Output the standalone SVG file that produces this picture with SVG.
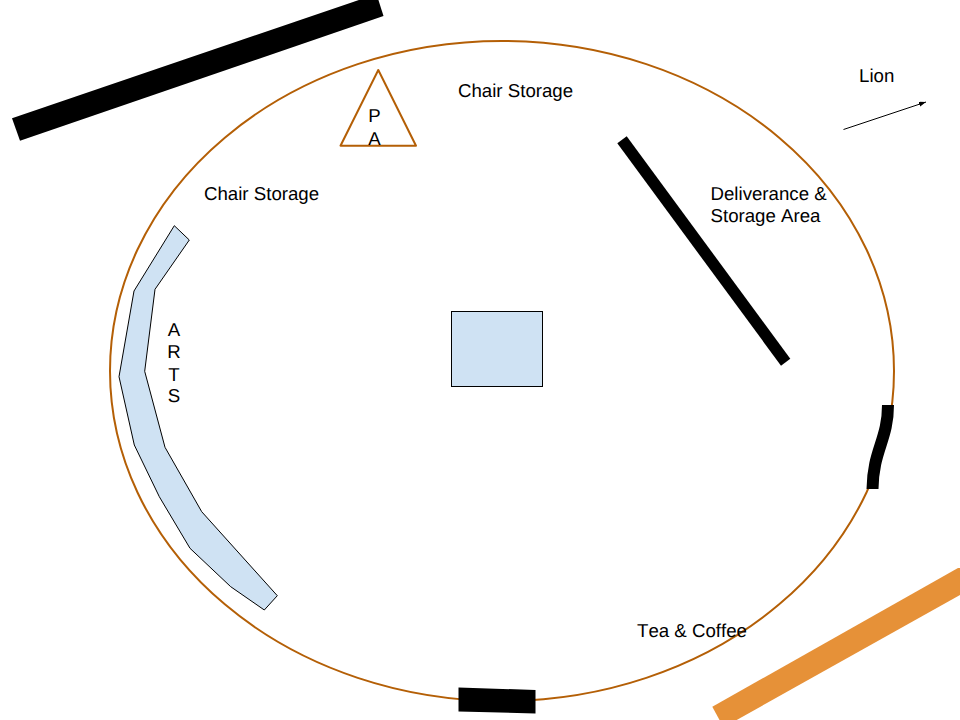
<svg xmlns="http://www.w3.org/2000/svg" width="960" height="720" viewBox="0 0 960 720">
<defs>
<style>
text{font-family:"Liberation Sans",Arial,sans-serif;font-size:18.67px;fill:#000;font-kerning:none;text-rendering:geometricPrecision}
.b{fill:#000}
.blue{fill:#cfe2f3;stroke:#000;stroke-width:1}
.brown{fill:#fff;stroke:#b45f06;stroke-width:2;stroke-linejoin:round}
</style>
<marker id="arrow" markerWidth="8" markerHeight="6" refX="7" refY="2.500" orient="auto" markerUnits="userSpaceOnUse"><path d="M0,0 L7,2.500 L0,5 Z" fill="#000"/></marker>
</defs>
<rect width="960" height="720" fill="#fff"/>
<g id="hall"><ellipse class="brown" cx="502" cy="371" rx="392" ry="330"/></g>
<g id="wall-top"><polygon class="b" points="12,118.300 376.500,-6 383.500,16 20,140.700"/></g>
<g id="wall-right"><polygon class="b" points="617.300,143.300 626.700,136.200 790.300,358.800 781,365.700"/></g>
<g id="door-right"><path d="M888,405 C888,440 873,450 872.500,489" fill="none" stroke="#000" stroke-width="12"/></g>
<g id="door-bottom"><polygon class="b" points="458.500,687.500 535.500,690 535.500,713.500 458.500,711.500"/></g>
<g id="orange-bar"><polygon points="712.300,706.700 958,568 960,568 960,595 736.700,720 719.500,720" fill="#e69138"/></g>
<g id="pa"><polygon class="brown" points="378.300,70 340.500,145.700 416,145.700"/><text x="374.500" y="122" text-anchor="middle">P</text><text x="374.500" y="145" text-anchor="middle">A</text></g>
<g id="arts"><polygon class="blue" points="174.300,225.700 189.300,240 155,289.300 144.700,371.300 165,447.300 201.700,511.700 277.300,595.700 264.300,610 230.700,586.700 190,548.300 159.300,496.700 134.300,445 119,376.700 134,291"/><text x="174" y="336" text-anchor="middle">A</text><text x="174" y="358" text-anchor="middle">R</text><text x="174" y="381" text-anchor="middle">T</text><text x="174" y="402" text-anchor="middle">S</text></g>
<g id="stage"><rect class="blue" x="451.500" y="311.500" width="91" height="75"/></g>
<g id="chair-storage-1"><text x="458" y="97">Chair Storage</text></g>
<g id="chair-storage-2"><text x="204" y="200">Chair Storage</text></g>
<g id="deliverance"><text x="710.500" y="200">Deliverance &amp;</text><text x="710.500" y="222">Storage Area</text></g>
<g id="tea"><text x="637" y="637">Tea &amp; Coffee</text></g>
<g id="lion"><text x="859" y="81.500">Lion</text></g>
<g id="connectors"><line x1="843.500" y1="129.500" x2="926" y2="102" stroke="#000" stroke-width="1" marker-end="url(#arrow)"/></g>
</svg>
